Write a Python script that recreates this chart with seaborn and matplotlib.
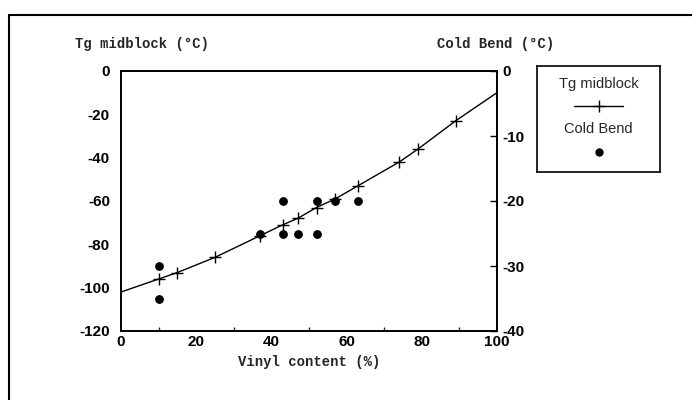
import numpy as np
import pandas as pd
import seaborn as sns
import matplotlib.pyplot as plt
from matplotlib.lines import Line2D

# Tg midblock curve (left axis)
vinyl_line = [0, 10, 15, 25, 37, 43, 47, 52, 57, 63, 74, 79, 89, 100]
tg_line = [-102, -96, -93, -86, -76, -71, -68, -63, -59, -53, -42, -36, -23, -10]
vinyl_tg = [10, 15, 25, 37, 43, 47, 52, 57, 63, 74, 79, 89]
tg_mid = [-96, -93, -86, -76, -71, -68, -63, -59, -53, -42, -36, -23]

# Cold bend points (right axis)
vinyl_cb = [10, 10, 37, 43, 43, 47, 52, 52, 57, 63]
cold_bend = [-30, -35, -25, -20, -25, -25, -20, -25, -20, -20]

x_ticks = [0, 20, 40, 60, 80, 100]
left_ticks = [0, -20, -40, -60, -80, -100, -120]
right_ticks = [0, -10, -20, -30, -40]

sns.set_theme(style="white")
plt.rcParams['font.family'] = ['Liberation Sans', 'DejaVu Sans']
plt.rcParams['axes.unicode_minus'] = False

fig = plt.figure(figsize=(6.92, 4), dpi=100)
ax = fig.add_axes([0.1749, 0.1725, 0.5433, 0.65])

df_line = pd.DataFrame({"v": vinyl_line, "tg": tg_line})
df_tg = pd.DataFrame({"v": vinyl_tg, "tg": tg_mid})
df_cb = pd.DataFrame({"v": vinyl_cb, "cb": cold_bend})

sns.lineplot(data=df_line, x="v", y="tg", ax=ax, color="black", lw=1.0)
ax.plot(df_tg["v"], df_tg["tg"], ls="none", marker="+", ms=8, mew=1.0, color="black")
ax.set_xlim(0, 100)
ax.set_ylim(-120, 0)
ax.set_xticks(x_ticks)
ax.set_xticks(range(10, 100, 20), minor=True)
ax.set_yticks(left_ticks)
ax.set_xlabel("Vinyl content (%)", family="Liberation Mono", weight="bold", fontsize=10)
ax.set_ylabel("")

ax2 = ax.twinx()
ax2.scatter(df_cb["v"], df_cb["cb"], s=28, color="black", zorder=3)
ax2.set_ylim(-40, 0)
ax2.set_yticks(right_ticks)

for a in (ax, ax2):
    for s in a.spines.values():
        s.set_color("black")
        s.set_linewidth(1.2)
    a.tick_params(labelsize=11, colors="black", direction="in", length=5, width=1)
    for lab in a.get_xticklabels() + a.get_yticklabels():
        lab.set_fontweight("bold")
ax.tick_params(axis="y", length=0, pad=8)
ax.tick_params(axis="x", which="minor", direction="in", length=3, width=1, bottom=True)
ax.tick_params(axis="x", pad=3)
ax2.tick_params(axis="y", pad=4)

fig.text(75 / 692, 1 - 44 / 400, "Tg midblock (\u00b0C)", family="Liberation Mono",
         weight="bold", fontsize=10, va="center", ha="left")
fig.text(437 / 692, 1 - 44 / 400, "Cold Bend (\u00b0C)", family="Liberation Mono",
         weight="bold", fontsize=10, va="center", ha="left")

# legend box
lg = fig.add_axes([537 / 692, 1 - 172 / 400, 123 / 692, 106 / 400])
lg.set_xlim(0, 1)
lg.set_ylim(0, 1)
lg.set_xticks([])
lg.set_yticks([])
for s in lg.spines.values():
    s.set_color("black")
    s.set_linewidth(1.2)
lg.text(0.5, 0.83, "Tg midblock", ha="center", va="center", fontsize=10.5)
lg.plot([0.3, 0.7], [0.62, 0.62], color="black", lw=1)
lg.plot([0.5], [0.62], marker="+", ms=9, mew=1, color="black")
lg.text(0.5, 0.41, "Cold Bend", ha="center", va="center", fontsize=10.5)
lg.plot([0.5], [0.19], marker="o", ms=5, color="black", ls="none")

# page frame on top and left
fig.add_artist(Line2D([9 / 692, 1], [1 - 15 / 400, 1 - 15 / 400], color="black", lw=1.5))
fig.add_artist(Line2D([9 / 692, 9 / 692], [0, 1 - 15 / 400], color="black", lw=1.5))

fig.savefig("out.png", dpi=100)
